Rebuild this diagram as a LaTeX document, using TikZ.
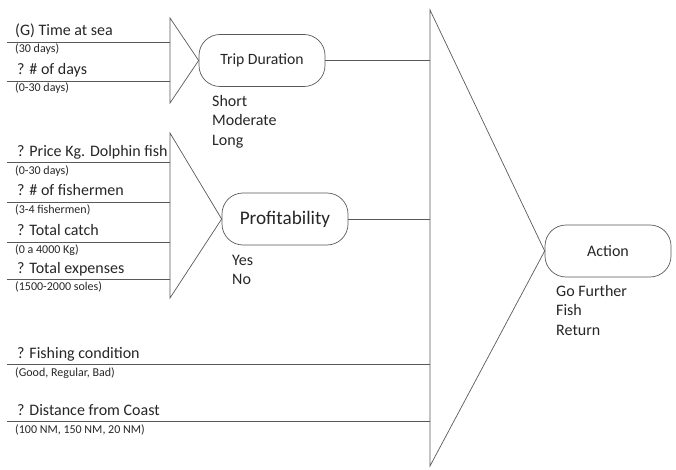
\documentclass[tikz,border=0pt]{standalone}
\usepackage{fontspec}
\setmainfont{Carlito}
\usepackage{tikz}
\usetikzlibrary{positioning}

\tikzset{
  line/.style={draw=black!65, line width=0.7pt},
  goal/.style={line, rounded corners=21pt, minimum width=126pt, minimum height=52pt, text=black!85},
  var/.style={anchor=base west, inner sep=0pt, text=black!85, font=\fontsize{16}{18}\selectfont},
  span/.style={anchor=base west, inner sep=0pt, text=black!85, font=\fontsize{12}{14}\selectfont},
  outs/.style={anchor=north west, align=left, inner sep=0pt, text=black!85, font=\fontsize{16}{19.5}\selectfont},
}

\begin{document}
\begin{tikzpicture}[x=1pt,y=-1pt]
        \useasboundingbox (0,0) rectangle (676,470);
        \def\xl{7}
        \def\xt{170}
        \def\xb{430}
        % goal nodes
        \node[goal, font=\fontsize{15.7}{16}\selectfont] (trip) at (262,60.5) {Trip Duration};
        \node[goal, font=\fontsize{19.2}{20}\selectfont] (profit) at (285,219) {Profitability};
        \node[goal, font=\fontsize{16}{16}\selectfont] (action) at (608,251) {Action};
        % triangles
        \coordinate (t1a) at (\xt,18);
        \coordinate (t1b) at (\xt,103);
        \coordinate (t2a) at (\xt,133);
        \coordinate (t2b) at (\xt,298);
        \coordinate (t3a) at (\xb,10);
        \coordinate (t3b) at (\xb,466);
        \draw[line] (t1a) -- (trip.west) -- (t1b) -- cycle;
        \draw[line] (t2a) -- (profit.west) -- (t2b) -- cycle;
        \draw[line] (t3a) -- (action.west) -- (t3b) -- cycle;
        % inputs
        \node[var] (sea) at (15,36) {(G) Time at sea};
        \node[span] (sear) at (15,53) {(30 days)};
        \node[var] (days) at (17,75) {? \# of days};
        \node[span] (daysr) at (15,92) {(0-30 days)};
        \node[var] (price) at (17,157) {? Price Kg. Dolphin fish};
        \node[span] (pricer) at (15,175) {(0-30 days)};
        \node[var] (crew) at (17,196) {? \# of fishermen};
        \node[span] (crewr) at (15,214) {(3-4 fishermen)};
        \node[var] (catch) at (17,235) {? Total catch};
        \node[span] (catchr) at (15,253) {(0 a 4000 Kg)};
        \node[var] (cost) at (17,273) {? Total expenses};
        \node[span] (costr) at (15,290) {(1500-2000 soles)};
        \node[var] (cond) at (17,358) {? Fishing condition};
        \node[span] (condr) at (15,376) {(Good, Regular, Bad)};
        \node[var] (dist) at (17,415) {? Distance from Coast};
        \node[span] (distr) at (15,433) {(100 NM, 150 NM, 20 NM)};
        \coordinate (l1) at (\xl,42);
        \coordinate (l2) at (\xl,81);
        \coordinate (l3) at (\xl,162);
        \coordinate (l4) at (\xl,202);
        \coordinate (l5) at (\xl,242);
        \coordinate (l6) at (\xl,279);
        \coordinate (l7) at (\xl,364);
        \coordinate (l8) at (\xl,421);
        \foreach \p in {l1,l2} \draw[line] (\p) -- (\p -| t1a);
        \foreach \p in {l3,l4,l5,l6} \draw[line] (\p) -- (\p -| t2a);
        \foreach \p in {l7,l8} \draw[line] (\p) -- (\p -| t3a);
        % outputs
        \draw[line] (trip.east) -- (trip.east -| t3a);
        \draw[line] (profit.east) -- (profit.east -| t3a);
        \node[outs] (tripv) at (212,95) {Short\\Moderate\\Long};
        \node[outs] (profitv) at (232,255) {Yes\\No};
        \node[outs] (actionv) at (556,285) {Go Further\\Fish\\Return};
    \end{tikzpicture}
\end{document}
